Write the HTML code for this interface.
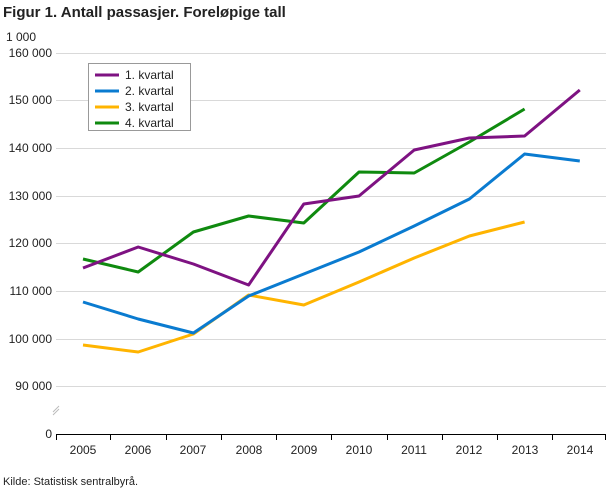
<!DOCTYPE html>
<html><head><meta charset="utf-8"><style>
html,body{margin:0;padding:0;background:#fff;}
svg{display:block;font-family:"Liberation Sans","DejaVu Sans",sans-serif;}
</style></head><body>
<svg width="610" height="488" viewBox="0 0 610 488" xmlns="http://www.w3.org/2000/svg">
<text x="3" y="17" font-size="15" font-weight="bold" fill="#222">Figur 1. Antall passasjer. Foreløpige tall</text>
<text x="6" y="41" font-size="12" fill="#222">1 000</text>
<g stroke="#d9d9d9" stroke-width="1">
<line x1="56" x2="606" y1="53.5" y2="53.5"/>
<line x1="56" x2="606" y1="100.5" y2="100.5"/>
<line x1="56" x2="606" y1="148.5" y2="148.5"/>
<line x1="56" x2="606" y1="196.5" y2="196.5"/>
<line x1="56" x2="606" y1="243.5" y2="243.5"/>
<line x1="56" x2="606" y1="291.5" y2="291.5"/>
<line x1="56" x2="606" y1="339.5" y2="339.5"/>
<line x1="56" x2="606" y1="386.5" y2="386.5"/>
</g>
<line x1="56" x2="606" y1="434.5" y2="434.5" stroke="#000" stroke-width="1"/>
<g stroke="#000">
<line x1="56.5" x2="56.5" y1="434" y2="440"/>
<line x1="110.5" x2="110.5" y1="434" y2="440"/>
<line x1="166.5" x2="166.5" y1="434" y2="440"/>
<line x1="221.5" x2="221.5" y1="434" y2="440"/>
<line x1="276.5" x2="276.5" y1="434" y2="440"/>
<line x1="331.5" x2="331.5" y1="434" y2="440"/>
<line x1="387.5" x2="387.5" y1="434" y2="440"/>
<line x1="442.5" x2="442.5" y1="434" y2="440"/>
<line x1="497.5" x2="497.5" y1="434" y2="440"/>
<line x1="552.5" x2="552.5" y1="434" y2="440"/>
<line x1="605.5" x2="605.5" y1="434" y2="440"/>
</g>
<g stroke="#bbb" stroke-width="1"><line x1="53" y1="412" x2="59" y2="406"/><line x1="53" y1="415" x2="59" y2="409"/></g>
<g font-size="12" fill="#222" text-anchor="end">
<text x="52" y="57">160 000</text><text x="52" y="104">150 000</text><text x="52" y="152">140 000</text>
<text x="52" y="200">130 000</text><text x="52" y="247">120 000</text><text x="52" y="295">110 000</text>
<text x="52" y="343">100 000</text><text x="52" y="390">90 000</text><text x="52" y="438">0</text>
</g>
<g font-size="12" fill="#222" text-anchor="middle">
<text x="83" y="454">2005</text><text x="138" y="454">2006</text><text x="193" y="454">2007</text>
<text x="249" y="454">2008</text><text x="304" y="454">2009</text><text x="359" y="454">2010</text>
<text x="414" y="454">2011</text><text x="469" y="454">2012</text><text x="525" y="454">2013</text>
<text x="580" y="454">2014</text>
</g>
<g fill="none" stroke-width="3" stroke-linejoin="round">
<polyline stroke="#ffb400" points="83,345 138.2,352 193.4,334 248.6,295 303.8,305 359,282 414.2,258 469.4,236 524.6,222"/>
<polyline stroke="#0a7bd0" points="83,302 138.2,319 193.4,333 248.6,296 303.8,274 359,252 414.2,226 469.4,199 524.6,154 579.8,161"/>
<polyline stroke="#0f8a0f" points="83,259 138.2,272 193.4,232 248.6,216 303.8,223 359,172 414.2,173 469.4,142 524.6,109"/>
<polyline stroke="#7e1282" points="83,268 138.2,247 193.4,264 248.6,285 303.8,204 359,196 414.2,150 469.4,138 524.6,136 579.8,90"/>
</g>
<rect x="88.5" y="63.5" width="102" height="67" fill="#fff" stroke="#999"/>
<g stroke-width="3">
<line x1="95" x2="119" y1="75" y2="75" stroke="#7e1282"/>
<line x1="95" x2="119" y1="91" y2="91" stroke="#0a7bd0"/>
<line x1="95" x2="119" y1="107" y2="107" stroke="#ffb400"/>
<line x1="95" x2="119" y1="123" y2="123" stroke="#0f8a0f"/>
</g>
<g font-size="12" fill="#222">
<text x="125" y="79">1. kvartal</text><text x="125" y="95">2. kvartal</text>
<text x="125" y="111">3. kvartal</text><text x="125" y="127">4. kvartal</text>
</g>
<text x="3" y="485" font-size="11" fill="#222">Kilde: Statistisk sentralbyrå.</text>
</svg>
</body></html>
